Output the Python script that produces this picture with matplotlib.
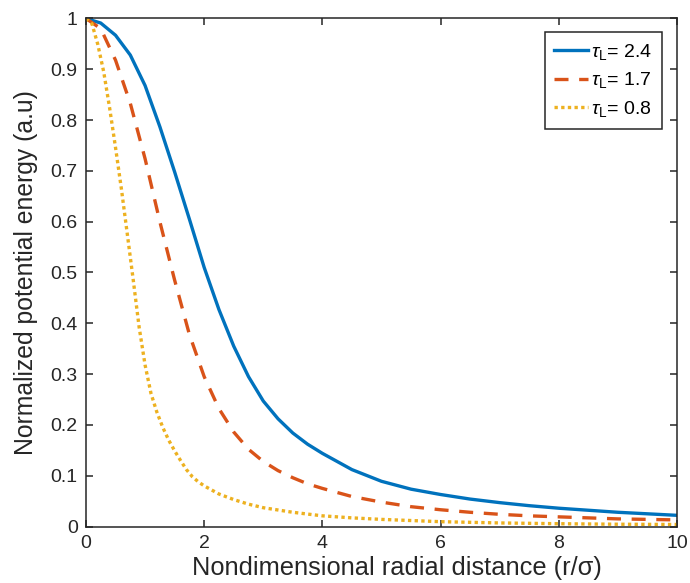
import matplotlib
matplotlib.use('Agg')
import matplotlib.pyplot as plt
from matplotlib.ticker import FuncFormatter

plt.rcParams['font.family'] = ['Liberation Sans', 'DejaVu Sans']
plt.rcParams['mathtext.fontset'] = 'custom'
plt.rcParams['mathtext.rm'] = 'Liberation Sans'
plt.rcParams['mathtext.it'] = 'Liberation Sans:italic'

# valores
x_24 = [0, 0.25, 0.5, 0.75, 1.0, 1.25, 1.5, 1.75, 2.0, 2.25, 2.5, 2.75, 3.0, 3.25, 3.5,
        3.75, 4.0, 4.5, 5.0, 5.5, 6.0, 6.5, 7.0, 7.5, 8.0, 8.5, 9.0, 9.5, 10]
y_24 = [1.0, 0.991, 0.967, 0.928, 0.868, 0.787, 0.698, 0.605, 0.51, 0.427, 0.355, 0.295, 0.247,
        0.212, 0.184, 0.162, 0.144, 0.112, 0.089, 0.0735, 0.063, 0.054, 0.047, 0.041, 0.036,
        0.032, 0.028, 0.025, 0.022]

x_17 = [0, 0.25, 0.5, 0.75, 1.0, 1.25, 1.5, 1.75, 2.0, 2.25, 2.5, 2.75, 3.0, 3.25, 3.5,
        3.75, 4.0, 4.5, 5.0, 5.5, 6.0, 6.5, 7.0, 7.5, 8.0, 8.5, 9.0, 9.5, 10]
y_17 = [1.0, 0.98, 0.918, 0.833, 0.724, 0.6, 0.485, 0.378, 0.295, 0.232, 0.186, 0.152, 0.128,
        0.11, 0.096, 0.084, 0.075, 0.059, 0.048, 0.039, 0.033, 0.028, 0.024, 0.021, 0.019,
        0.017, 0.015, 0.014, 0.013]

x_08 = [0, 0.1, 0.2, 0.3, 0.4, 0.5, 0.6, 0.7, 0.8, 0.9, 1.0, 1.1, 1.2, 1.3, 1.4, 1.5, 1.6,
        1.7, 1.8, 1.9, 2.0, 2.25, 2.5, 2.75, 3.0, 3.5, 4.0, 4.5, 5.0, 6.0, 7.0, 8.0, 9.0, 10]
y_08 = [1.0, 0.99, 0.949, 0.895, 0.824, 0.746, 0.664, 0.575, 0.485, 0.392, 0.318, 0.262, 0.225,
        0.195, 0.17, 0.149, 0.13, 0.112, 0.098, 0.088, 0.08, 0.064, 0.053, 0.044, 0.037, 0.028,
        0.021, 0.017, 0.014, 0.0095, 0.007, 0.0055, 0.0045, 0.004]

etiquetas = [r'$\tau_{\rm L}$= 2.4', r'$\tau_{\rm L}$= 1.7', r'$\tau_{\rm L}$= 0.8']

fig = plt.figure(figsize=(6.9, 5.83), dpi=100)
ax = fig.add_axes([0.1246, 0.0969, 0.8565, 0.8714])

ax.plot(x_24, y_24, color='#0072BD', lw=2.4, ls='-', label=etiquetas[0])
ax.plot(x_17, y_17, color='#D95319', lw=2.4, ls=(0, (4.2, 3.2)), dash_capstyle='butt',
        label=etiquetas[1])
ax.plot(x_08, y_08, color='#EDB120', lw=2.4, ls=(0, (1.0, 1.0)), dash_capstyle='butt',
        label=etiquetas[2])

ax.set_xlim(0, 10)
ax.set_ylim(0, 1)
ax.set_xticks(range(0, 11, 2))
ax.set_yticks([i / 10 for i in range(11)])
ax.yaxis.set_major_formatter(FuncFormatter(lambda v, p: '%g' % v))
ax.xaxis.set_major_formatter(FuncFormatter(lambda v, p: '%g' % v))

ax.tick_params(direction='in', top=True, right=True, length=5, width=1.1,
               color='#262626', labelcolor='#262626', labelsize=14, pad=6)
for s in ax.spines.values():
    s.set_color('#262626')
    s.set_linewidth(1.1)

ax.set_xlabel('Nondimensional radial distance (r/σ)', fontsize=18.3, color='#262626')
ax.xaxis.set_label_coords(0.526, -0.058)
ax.set_ylabel('Normalized potential energy (a.u)', fontsize=17.8, color='#262626', labelpad=9)

leg = ax.legend(loc='upper right', bbox_to_anchor=(0.9746, 0.9734), borderaxespad=0,
                fontsize=14, handlelength=1.7, handletextpad=0.2, borderpad=0.5,
                labelspacing=0.45, fancybox=False, framealpha=1, edgecolor='#262626')
leg.get_frame().set_linewidth(1.1)

plt.savefig('out.png', dpi=100)
plt.close()
